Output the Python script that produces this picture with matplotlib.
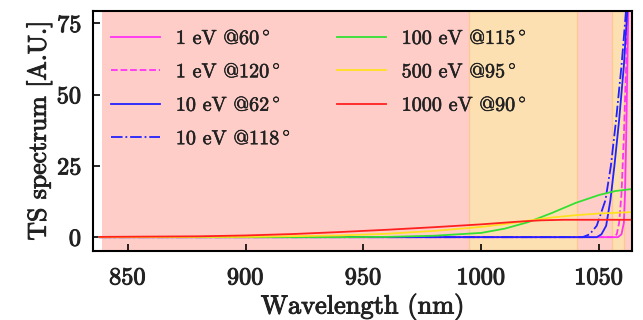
import matplotlib
matplotlib.use("Agg")
import matplotlib.pyplot as plt
from matplotlib import patheffects as pe

plt.rcParams["font.family"] = ["cmr10", "DejaVu Serif"]
plt.rcParams["mathtext.fontset"] = "cm"
plt.rcParams["axes.formatter.use_mathtext"] = True

# wavelength (nm) / TS spectrum (A.U.)
wl_1ev_60 = [838, 1058.0, 1059.5, 1060.5, 1061.0, 1061.5, 1062.0, 1062.5, 1063.0]
ts_1ev_60 = [0, 0, 1, 5, 15, 35, 60, 85, 100]
wl_1ev_120 = [838, 1056.0, 1057.5, 1058.5, 1059.5, 1060.5, 1061.5, 1062.3, 1063.0]
ts_1ev_120 = [0, 0, 1, 5, 15, 35, 60, 85, 100]
wl_10ev_62 = [838, 1049.0, 1051.0, 1053.0, 1054.8, 1056.5, 1058.5, 1060.5, 1062.0, 1063.0]
ts_10ev_62 = [0, 0, 1, 4, 13, 25, 41, 60, 80, 95]
wl_10ev_118 = [838, 1043.0, 1046.0, 1049.0, 1052.7, 1055.0, 1057.2, 1059.5, 1061.5, 1063.0]
ts_10ev_118 = [0, 0, 1, 4, 13, 25, 41, 60, 80, 100]
wl_100ev = [838, 940, 960, 980, 1000, 1010, 1020, 1030, 1040, 1050, 1057, 1064]
ts_100ev = [0, 0, 0.1, 0.5, 1.5, 3.0, 5.3, 8.5, 12.0, 14.8, 16.2, 16.9]
wl_500ev = [838, 900, 940, 960, 980, 1000, 1010, 1020, 1030, 1040, 1050, 1064]
ts_500ev = [0, 0.1, 0.6, 1.2, 2.2, 3.6, 4.6, 5.8, 6.9, 7.7, 8.3, 8.8]
wl_1000ev = [838, 880, 900, 920, 940, 960, 980, 1000, 1015, 1025, 1035, 1064]
ts_1000ev = [0.1, 0.3, 0.6, 1.1, 1.8, 2.6, 3.5, 4.5, 5.4, 5.9, 6.1, 6.1]

# shaded wavelength bands
pink_bands = [(839, 1065)]
orange_bands = [(995, 1040.5), (1055.5, 1060.4)]

fig = plt.figure(figsize=(6.43, 3.2), dpi=100)
ax = fig.add_axes([0.145, 0.217, 0.838, 0.749])

for lo, hi in pink_bands:
    ax.axvspan(lo, hi, facecolor="#ffcdc8", edgecolor="none", zorder=0)
for lo, hi in orange_bands:
    ax.axvspan(lo, hi, facecolor="#fde0b2", edgecolor="#fbc896", lw=1.0, zorder=0.5)

lw = 1.3
ax.plot(wl_1ev_60, ts_1ev_60, color="#ff33f5", lw=lw, label=r"1 eV @60$^\circ$")
ax.plot(wl_1ev_120, ts_1ev_120, color="#ff33f5", lw=lw, ls="--", label=r"1 eV @120$^\circ$")
ax.plot(wl_10ev_62, ts_10ev_62, color="#2222ff", lw=lw, label=r"10 eV @62$^\circ$")
ax.plot(wl_10ev_118, ts_10ev_118, color="#2222ff", lw=lw, ls="-.", label=r"10 eV @118$^\circ$")
ax.plot(wl_100ev, ts_100ev, color="#33e033", lw=lw, label=r"100 eV @115$^\circ$")
ax.plot(wl_500ev, ts_500ev, color="#ffe020", lw=lw, label=r"500 eV @95$^\circ$")
ax.plot(wl_1000ev, ts_1000ev, color="#ff2020", lw=lw, label=r"1000 eV @90$^\circ$")

thick = [pe.withStroke(linewidth=0.7, foreground="#222222")]

ax.set_xlim(835.3, 1064)
ax.set_ylim(-4.7, 79.4)
ax.set_xticks([850, 900, 950, 1000, 1050])
ax.set_yticks([0, 25, 50, 75])
ax.tick_params(direction="in", length=5, width=1.2, labelsize=17.5,
               labelcolor="#222222")
ax.tick_params(axis="x", pad=12)
ax.tick_params(axis="y", pad=8)
for lab in ax.get_xticklabels() + ax.get_yticklabels():
    lab.set_path_effects(thick)
for s in ax.spines.values():
    s.set_linewidth(1.5)
ax.set_xlabel("Wavelength (nm)", fontsize=19, labelpad=3, color="#222222",
              path_effects=thick)
ax.set_ylabel("TS spectrum [A.U.]", fontsize=18.5, labelpad=3, color="#222222",
              path_effects=thick)

leg = ax.legend(ncol=2, loc="upper left", frameon=False, fontsize=14.5,
                handlelength=2.4, handletextpad=0.8, columnspacing=2.3,
                labelspacing=0.72, borderaxespad=0.5)
for t in leg.get_texts():
    t.set_color("#222222")
    t.set_path_effects([pe.withStroke(linewidth=0.4, foreground="#222222")])

fig.savefig("out.png", dpi=100)
